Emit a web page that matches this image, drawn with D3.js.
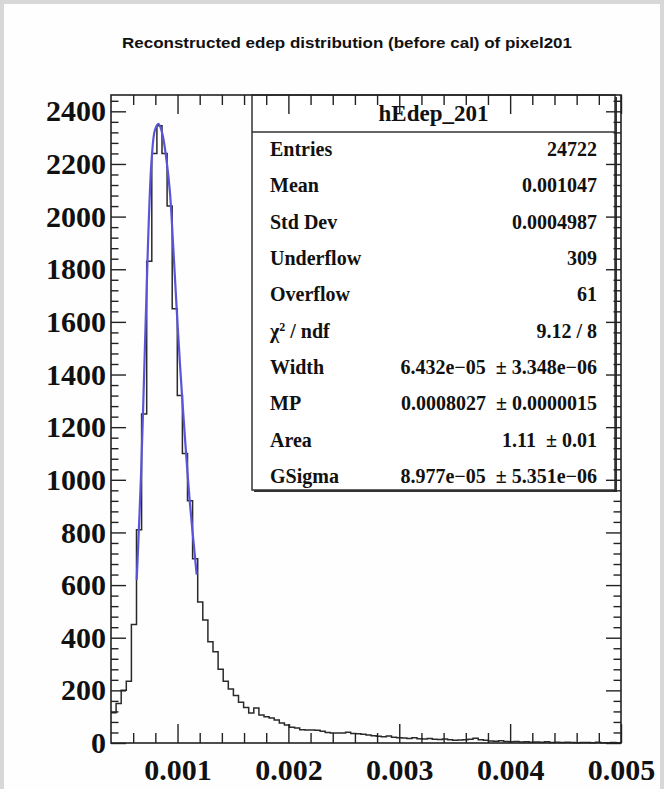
<!DOCTYPE html>
<html>
<head>
<meta charset="utf-8">
<script src="https://cdn.jsdelivr.net/npm/d3@7"></script>
<style>
  body { margin: 0; background: #d8d8d8; }
  .tick text { font-family: 'Liberation Serif', serif; font-weight: bold; font-size: 30px; fill: #111; }
  .tick line { stroke: #222; stroke-width: 1.4; }
</style>
</head>
<body>
<script>
// chart values
const titleText = 'Reconstructed edep distribution (before cal) of pixel201'
const histName = 'hEdep_201'
const binLow = 0.0004
const binWidth = 0.000046
const counts = [
  115, 150, 200, 235, 450, 810, 1250, 1830, 2240, 2345,
  2240, 2040, 1650, 1320, 1100, 920, 700, 536, 467, 385,
  347, 280, 235, 205, 180, 155, 135, 114, 133, 106,
  100, 95, 87, 76, 68, 60, 57, 50, 49, 49,
  48, 45, 40, 38, 38, 38, 41, 36, 35, 33,
  30, 28, 26, 24, 27, 22, 20, 19, 17, 20,
  16, 15, 17, 14, 13, 15, 12, 10, 11, 12,
  14, 18, 12, 10, 8, 7, 9, 6, 5, 6,
  4, 5, 3, 4, 3, 5, 2, 3, 2, 3,
  2, 1, 2, 2, 1, 3, 1, 1, 2, 1
]
const fitX = [0.000632, 0.000671, 0.000707, 0.000734, 0.000767, 0.000797, 0.000828, 0.00086,
  0.000902, 0.000932, 0.000962, 0.000991, 0.001022, 0.001067, 0.001112, 0.001173]
const fitY = [620, 1020, 1520, 1900, 2220, 2330, 2352, 2320, 2210, 2090, 1880, 1660, 1440, 1160, 910, 640]
const xTicks = [0.001, 0.002, 0.003, 0.004, 0.005]
const yTicks = [0, 200, 400, 600, 800, 1000, 1200, 1400, 1600, 1800, 2000, 2200, 2400]
const statLabels = ['Entries', 'Mean', 'Std Dev', 'Underflow', 'Overflow', 'chi2', 'Width', 'MP', 'Area', 'GSigma']
const statValues = ['24722', '0.001047', '0.0004987', '309', '61', '9.12 / 8', '6.432e\u221205', '0.0008027', '1.11', '8.977e\u221205']
const statErrors = ['', '', '', '', '', '', '\u00b1 3.348e\u221206', '\u00b1 0.0000015', '\u00b1 0.01', '\u00b1 5.351e\u221206']

const W = 664, H = 789
const pLeft = 111, pRight = 621, pTop = 95, pBottom = 743

const svg = d3.select('body').append('svg').attr('width', W).attr('height', H)

svg.append('rect').attr('x', 4).attr('y', 4).attr('width', W - 8).attr('height', H - 4).attr('fill', '#fefefe')

svg.append('text')
  .attr('x', 347).attr('y', 48)
  .attr('text-anchor', 'middle')
  .style('font-family', "'Liberation Sans', Arial, sans-serif")
  .style('font-weight', 'bold')
  .style('font-size', '15px')
  .attr('textLength', 450)
  .attr('lengthAdjust', 'spacingAndGlyphs')
  .attr('fill', '#111')
  .text(titleText)

const x = d3.scaleLinear().domain([binLow, 0.005]).range([pLeft, pRight])
const y = d3.scaleLinear().domain([0, 2462]).range([pBottom, pTop])

// histogram outline
const steps = counts.map((c, i) => [binLow + i * binWidth, c])
steps.push([binLow + counts.length * binWidth, counts[counts.length - 1]])
const stepLine = d3.line().x(d => x(d[0])).y(d => y(d[1])).curve(d3.curveStepAfter)
svg.append('path')
  .attr('d', stepLine(steps))
  .attr('fill', 'none')
  .attr('stroke', '#2a2a2a')
  .attr('stroke-width', 1.5)

// fit curve
const fitLine = d3.line().x(d => x(d[0])).y(d => y(d[1])).curve(d3.curveCatmullRom)
svg.append('path')
  .attr('d', fitLine(fitX.map((v, i) => [v, fitY[i]])))
  .attr('fill', 'none')
  .attr('stroke', '#5a55d8')
  .attr('stroke-width', 2.2)

// stats box
const bx1 = 252, bx2 = 615, by1 = pTop, by2 = 490
svg.append('rect').attr('x', bx1 + 2).attr('y', by1 + 2).attr('width', bx2 - bx1).attr('height', by2 - by1).attr('fill', '#333')
svg.append('rect').attr('x', bx1).attr('y', by1).attr('width', bx2 - bx1).attr('height', by2 - by1)
  .attr('fill', '#fff').attr('stroke', '#333').attr('stroke-width', 1.5)
svg.append('line').attr('x1', bx1).attr('x2', bx2).attr('y1', 132).attr('y2', 132).attr('stroke', '#333').attr('stroke-width', 1.5)

const serif = "'Liberation Serif', 'Times New Roman', serif"
svg.append('text')
  .attr('x', (bx1 + bx2) / 2).attr('y', 121)
  .attr('text-anchor', 'middle')
  .style('font-family', serif).style('font-weight', 'bold').style('font-size', '23px')
  .attr('fill', '#111')
  .text(histName)

const rowY = d3.scaleLinear().domain([0, 9]).range([156, 483])
statLabels.forEach((lab, i) => {
  const t = svg.append('text')
    .attr('x', 270).attr('y', rowY(i))
    .style('font-family', serif).style('font-weight', 'bold').style('font-size', '20px')
    .attr('fill', '#111')
  if (lab === 'chi2') {
    t.append('tspan').text('\u03c7')
    t.append('tspan').attr('dy', -7).style('font-size', '12px').text('2')
    t.append('tspan').attr('dy', 7).text(' / ndf')
  } else {
    t.text(lab)
  }
  const v = svg.append('text')
    .attr('x', 597).attr('y', rowY(i))
    .attr('text-anchor', 'end')
    .style('font-family', serif).style('font-weight', 'bold').style('font-size', '20px')
    .attr('fill', '#111')
  v.append('tspan').text(statValues[i])
  if (statErrors[i] !== '') v.append('tspan').attr('dx', 10).text(statErrors[i])
})

// axes, ROOT style ticks inside the frame
const xMinor = d3.range(0.0006, 0.005, 0.0002).filter(v => Math.abs(v * 1000 - Math.round(v * 1000)) > 1e-6)
const yMinor = d3.range(40, 2462, 40).filter(v => v % 200 !== 0)

svg.append('g').attr('transform', `translate(0,${pBottom})`)
  .call(d3.axisBottom(x).tickValues(xTicks).tickSize(-19).tickPadding(16).tickFormat(d3.format('.3f')))
svg.append('g').attr('transform', `translate(0,${pBottom})`)
  .call(d3.axisBottom(x).tickValues(xMinor).tickSize(-10).tickFormat(''))
svg.append('g').attr('transform', `translate(0,${pTop})`)
  .call(d3.axisTop(x).tickValues(xTicks).tickSize(-19).tickFormat(''))
svg.append('g').attr('transform', `translate(0,${pTop})`)
  .call(d3.axisTop(x).tickValues(xMinor).tickSize(-10).tickFormat(''))

svg.append('g').attr('transform', `translate(${pLeft},0)`)
  .call(d3.axisLeft(y).tickValues(yTicks).tickSize(-15).tickPadding(5).tickFormat(d3.format('d')))
svg.append('g').attr('transform', `translate(${pLeft},0)`)
  .call(d3.axisLeft(y).tickValues(yMinor).tickSize(-7.5).tickFormat(''))
svg.append('g').attr('transform', `translate(${pRight},0)`)
  .call(d3.axisRight(y).tickValues(yTicks).tickSize(-15).tickFormat(''))
svg.append('g').attr('transform', `translate(${pRight},0)`)
  .call(d3.axisRight(y).tickValues(yMinor).tickSize(-7.5).tickFormat(''))

svg.selectAll('.domain').remove()

svg.append('rect')
  .attr('x', pLeft).attr('y', pTop).attr('width', pRight - pLeft).attr('height', pBottom - pTop)
  .attr('fill', 'none').attr('stroke', '#222').attr('stroke-width', 1.6)
</script>
</body>
</html>
